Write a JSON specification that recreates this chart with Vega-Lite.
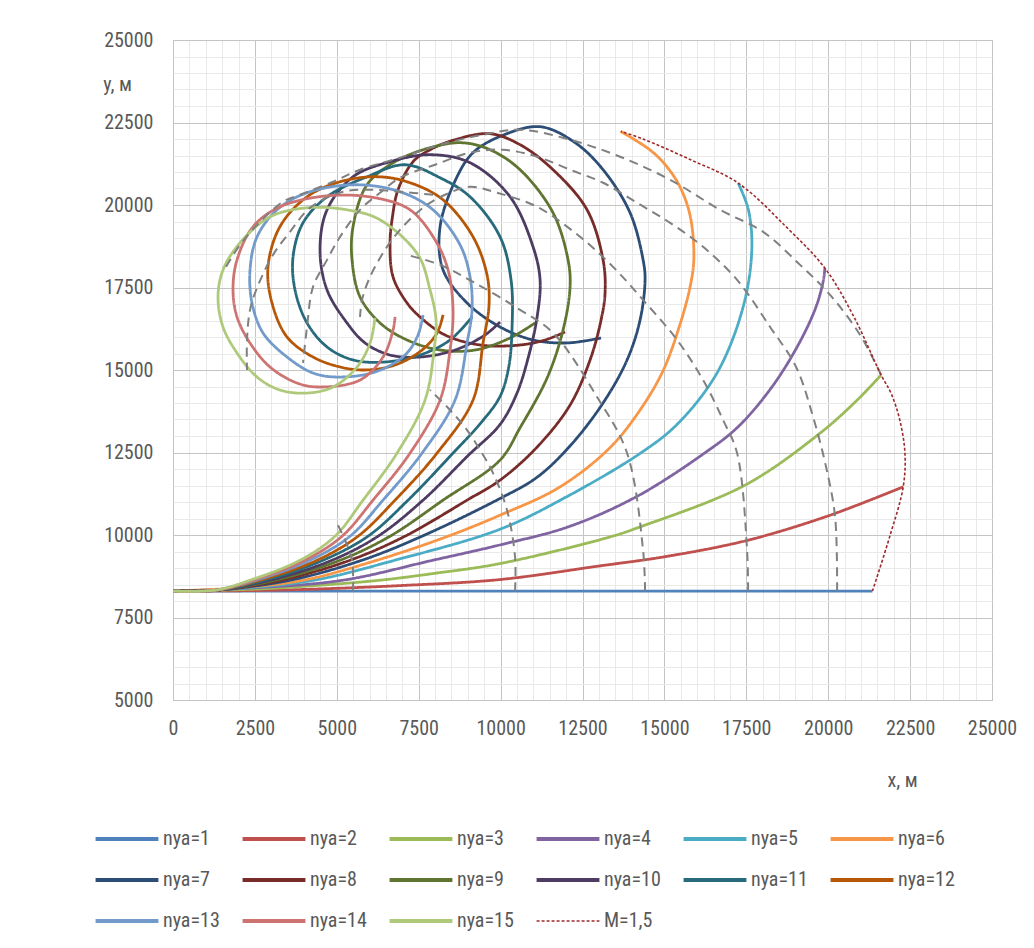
{
"$schema": "https://vega.github.io/schema/vega-lite/v6.json",
"width": 819, "height": 660,
"autosize": {"type": "none"},
"padding": {"left": 173, "top": 40, "right": 42, "bottom": 248},
"background": "white",
"config": {"view": {"stroke": "#c4c4c4", "strokeWidth": 1}, "font": "Liberation Sans Narrow, Arial Narrow, Roboto Condensed, DejaVu Sans Condensed, sans-serif"},
"datasets": {
"traj": [
{"s":"nya=1","i":0,"x":0,"y":8300},{"s":"nya=1","i":1,"x":10000,"y":8300},{"s":"nya=1","i":2,"x":21350,"y":8300},
{"s":"nya=2","i":0,"x":0,"y":8300},{"s":"nya=2","i":1,"x":2000,"y":8310},{"s":"nya=2","i":2,"x":4000,"y":8350},{"s":"nya=2","i":3,"x":7000,"y":8470},{"s":"nya=2","i":4,"x":9983,"y":8650},{"s":"nya=2","i":5,"x":13000,"y":9060},{"s":"nya=2","i":6,"x":15000,"y":9340},{"s":"nya=2","i":7,"x":17500,"y":9830},{"s":"nya=2","i":8,"x":20000,"y":10580},{"s":"nya=2","i":9,"x":22290,"y":11460},
{"s":"nya=3","i":0,"x":0,"y":8300},{"s":"nya=3","i":1,"x":2500,"y":8360},{"s":"nya=3","i":2,"x":4500,"y":8480},{"s":"nya=3","i":3,"x":6320,"y":8630},{"s":"nya=3","i":4,"x":8000,"y":8840},{"s":"nya=3","i":5,"x":9983,"y":9135},{"s":"nya=3","i":6,"x":13342,"y":9943},{"s":"nya=3","i":7,"x":14258,"y":10246},{"s":"nya=3","i":8,"x":17460,"y":11511},{"s":"nya=3","i":9,"x":19743,"y":13079},{"s":"nya=3","i":10,"x":20886,"y":14090},{"s":"nya=3","i":11,"x":21615,"y":14848},
{"s":"nya=4","i":0,"x":0,"y":8300},{"s":"nya=4","i":1,"x":2500,"y":8400},{"s":"nya=4","i":2,"x":5190,"y":8630},{"s":"nya=4","i":3,"x":7938,"y":9236},{"s":"nya=4","i":4,"x":9983,"y":9700},{"s":"nya=4","i":5,"x":12060,"y":10246},{"s":"nya=4","i":6,"x":14136,"y":11156},{"s":"nya=4","i":7,"x":16212,"y":12473},{"s":"nya=4","i":8,"x":17250,"y":13280},{"s":"nya=4","i":9,"x":18288,"y":14494},{"s":"nya=4","i":10,"x":19112,"y":15810},{"s":"nya=4","i":11,"x":19631,"y":16921},{"s":"nya=4","i":12,"x":19849,"y":17700},{"s":"nya=4","i":13,"x":19900,"y":18086},
{"s":"nya=5","i":0,"x":0,"y":8300},{"s":"nya=5","i":1,"x":2000,"y":8380},{"s":"nya=5","i":2,"x":4300,"y":8629},{"s":"nya=5","i":3,"x":6778,"y":9236},{"s":"nya=5","i":4,"x":9983,"y":10176},{"s":"nya=5","i":5,"x":12000,"y":11150},{"s":"nya=5","i":6,"x":14258,"y":12473},{"s":"nya=5","i":7,"x":15384,"y":13350},{"s":"nya=5","i":8,"x":16600,"y":14900},{"s":"nya=5","i":9,"x":17400,"y":16900},{"s":"nya=5","i":10,"x":17668,"y":18641},{"s":"nya=5","i":11,"x":17564,"y":19855},{"s":"nya=5","i":12,"x":17253,"y":20665},
{"s":"nya=6","i":0,"x":0,"y":8300},{"s":"nya=6","i":1,"x":2000,"y":8400},{"s":"nya=6","i":2,"x":3969,"y":8629},{"s":"nya=6","i":3,"x":6228,"y":9236},{"s":"nya=6","i":4,"x":8396,"y":9964},{"s":"nya=6","i":5,"x":9983,"y":10601},{"s":"nya=6","i":6,"x":11800,"y":11450},{"s":"nya=6","i":7,"x":13342,"y":12650},{"s":"nya=6","i":8,"x":14300,"y":13850},{"s":"nya=6","i":9,"x":14969,"y":15000},{"s":"nya=6","i":10,"x":15450,"y":16300},{"s":"nya=6","i":11,"x":15780,"y":17500},{"s":"nya=6","i":12,"x":15900,"y":18400},{"s":"nya=6","i":13,"x":15780,"y":19700},{"s":"nya=6","i":14,"x":15450,"y":20600},{"s":"nya=6","i":15,"x":15000,"y":21250},{"s":"nya=6","i":16,"x":14553,"y":21675},{"s":"nya=6","i":17,"x":13668,"y":22231},
{"s":"nya=7","i":0,"x":0,"y":8300},{"s":"nya=7","i":1,"x":1282,"y":8325},{"s":"nya=7","i":2,"x":3572,"y":8629},{"s":"nya=7","i":3,"x":5770,"y":9236},{"s":"nya=7","i":4,"x":7602,"y":9964},{"s":"nya=7","i":5,"x":9983,"y":11107},{"s":"nya=7","i":6,"x":11113,"y":11750},{"s":"nya=7","i":7,"x":12120,"y":12700},{"s":"nya=7","i":8,"x":13128,"y":14001},{"s":"nya=7","i":9,"x":13861,"y":15306},{"s":"nya=7","i":10,"x":14258,"y":16519},{"s":"nya=7","i":11,"x":14410,"y":17733},{"s":"nya=7","i":12,"x":14349,"y":18340},{"s":"nya=7","i":13,"x":13952,"y":19764},{"s":"nya=7","i":14,"x":13128,"y":21069},{"s":"nya=7","i":15,"x":12273,"y":21890},{"s":"nya=7","i":16,"x":11205,"y":22373},{"s":"nya=7","i":17,"x":9983,"y":22079},{"s":"nya=7","i":18,"x":9159,"y":21585},{"s":"nya=7","i":19,"x":8671,"y":20857},{"s":"nya=7","i":20,"x":8152,"y":19340},{"s":"nya=7","i":21,"x":8243,"y":18036},{"s":"nya=7","i":22,"x":8976,"y":17033},{"s":"nya=7","i":23,"x":9983,"y":16305},{"s":"nya=7","i":24,"x":10991,"y":15911},{"s":"nya=7","i":25,"x":12029,"y":15820},{"s":"nya=7","i":26,"x":13067,"y":15971},
{"s":"nya=8","i":0,"x":0,"y":8300},{"s":"nya=8","i":1,"x":1282,"y":8325},{"s":"nya=8","i":2,"x":3297,"y":8629},{"s":"nya=8","i":3,"x":5404,"y":9236},{"s":"nya=8","i":4,"x":7083,"y":9964},{"s":"nya=8","i":5,"x":8976,"y":11056},{"s":"nya=8","i":6,"x":9983,"y":11663},{"s":"nya=8","i":7,"x":11113,"y":12664},{"s":"nya=8","i":8,"x":12120,"y":13938},{"s":"nya=8","i":9,"x":12731,"y":15304},{"s":"nya=8","i":10,"x":13067,"y":16517},{"s":"nya=8","i":11,"x":13189,"y":17336},{"s":"nya=8","i":12,"x":13128,"y":18337},{"s":"nya=8","i":13,"x":12639,"y":19854},{"s":"nya=8","i":14,"x":11601,"y":21069},{"s":"nya=8","i":15,"x":10594,"y":21827},{"s":"nya=8","i":16,"x":9678,"y":22160},{"s":"nya=8","i":17,"x":8610,"y":21978},{"s":"nya=8","i":18,"x":7846,"y":21675},{"s":"nya=8","i":19,"x":7327,"y":21311},{"s":"nya=8","i":20,"x":6869,"y":20462},{"s":"nya=8","i":21,"x":6700,"y":19650},{"s":"nya=8","i":22,"x":6625,"y":18853},{"s":"nya=8","i":23,"x":6717,"y":17821},{"s":"nya=8","i":24,"x":7144,"y":17033},{"s":"nya=8","i":25,"x":7541,"y":16608},{"s":"nya=8","i":26,"x":8304,"y":16062},{"s":"nya=8","i":27,"x":9373,"y":15758},{"s":"nya=8","i":28,"x":10594,"y":15758},{"s":"nya=8","i":29,"x":11357,"y":15910},{"s":"nya=8","i":30,"x":11968,"y":16153},
{"s":"nya=9","i":0,"x":0,"y":8300},{"s":"nya=9","i":1,"x":1282,"y":8325},{"s":"nya=9","i":2,"x":3114,"y":8629},{"s":"nya=9","i":3,"x":5099,"y":9236},{"s":"nya=9","i":4,"x":6625,"y":9964},{"s":"nya=9","i":5,"x":8243,"y":11056},{"s":"nya=9","i":6,"x":9983,"y":12270},{"s":"nya=9","i":7,"x":10594,"y":13250},{"s":"nya=9","i":8,"x":11418,"y":14757},{"s":"nya=9","i":9,"x":11907,"y":16214},{"s":"nya=9","i":10,"x":12120,"y":17518},{"s":"nya=9","i":11,"x":12059,"y":18337},{"s":"nya=9","i":12,"x":11601,"y":19763},{"s":"nya=9","i":13,"x":10594,"y":21069},{"s":"nya=9","i":14,"x":9678,"y":21675},{"s":"nya=9","i":15,"x":8823,"y":21887},{"s":"nya=9","i":16,"x":7846,"y":21736},{"s":"nya=9","i":17,"x":6778,"y":21311},{"s":"nya=9","i":18,"x":5923,"y":20614},{"s":"nya=9","i":19,"x":5495,"y":19339},{"s":"nya=9","i":20,"x":5465,"y":18337},{"s":"nya=9","i":21,"x":5709,"y":17215},{"s":"nya=9","i":22,"x":6320,"y":16426},{"s":"nya=9","i":23,"x":7144,"y":15910},{"s":"nya=9","i":24,"x":8152,"y":15606},{"s":"nya=9","i":25,"x":9220,"y":15606},{"s":"nya=9","i":26,"x":10289,"y":15971},{"s":"nya=9","i":27,"x":11052,"y":16426},
{"s":"nya=10","i":0,"x":0,"y":8300},{"s":"nya=10","i":1,"x":1282,"y":8325},{"s":"nya=10","i":2,"x":2961,"y":8629},{"s":"nya=10","i":3,"x":4854,"y":9236},{"s":"nya=10","i":4,"x":6259,"y":9964},{"s":"nya=10","i":5,"x":7633,"y":11056},{"s":"nya=10","i":6,"x":9000,"y":12400},{"s":"nya=10","i":7,"x":9983,"y":13350},{"s":"nya=10","i":8,"x":10500,"y":14300},{"s":"nya=10","i":9,"x":10850,"y":15400},{"s":"nya=10","i":10,"x":11113,"y":16600},{"s":"nya=10","i":11,"x":11205,"y":17730},{"s":"nya=10","i":12,"x":10991,"y":18732},{"s":"nya=10","i":13,"x":10289,"y":20249},{"s":"nya=10","i":14,"x":9067,"y":21281},{"s":"nya=10","i":15,"x":7846,"y":21524},{"s":"nya=10","i":16,"x":6625,"y":21311},{"s":"nya=10","i":17,"x":5495,"y":20856},{"s":"nya=10","i":18,"x":4702,"y":19854},{"s":"nya=10","i":19,"x":4488,"y":18641},{"s":"nya=10","i":20,"x":4702,"y":17427},{"s":"nya=10","i":21,"x":5312,"y":16426},{"s":"nya=10","i":22,"x":5862,"y":15819},{"s":"nya=10","i":23,"x":6625,"y":15455},{"s":"nya=10","i":24,"x":7541,"y":15394},{"s":"nya=10","i":25,"x":8610,"y":15606},{"s":"nya=10","i":26,"x":9525,"y":16062},{"s":"nya=10","i":27,"x":9983,"y":16457},
{"s":"nya=11","i":0,"x":0,"y":8300},{"s":"nya=11","i":1,"x":1282,"y":8325},{"s":"nya=11","i":2,"x":2809,"y":8629},{"s":"nya=11","i":3,"x":4580,"y":9236},{"s":"nya=11","i":4,"x":5953,"y":9964},{"s":"nya=11","i":5,"x":7175,"y":11056},{"s":"nya=11","i":6,"x":8548,"y":12482},{"s":"nya=11","i":7,"x":9400,"y":13400},{"s":"nya=11","i":8,"x":9983,"y":14200},{"s":"nya=11","i":9,"x":10250,"y":15100},{"s":"nya=11","i":10,"x":10350,"y":16300},{"s":"nya=11","i":11,"x":10319,"y":17730},{"s":"nya=11","i":12,"x":9983,"y":19035},{"s":"nya=11","i":13,"x":9067,"y":20249},{"s":"nya=11","i":14,"x":8152,"y":20825},{"s":"nya=11","i":15,"x":7083,"y":21220},{"s":"nya=11","i":16,"x":5923,"y":20856},{"s":"nya=11","i":17,"x":4702,"y":20249},{"s":"nya=11","i":18,"x":3969,"y":19460},{"s":"nya=11","i":19,"x":3664,"y":18428},{"s":"nya=11","i":20,"x":3725,"y":17427},{"s":"nya=11","i":21,"x":4091,"y":16426},{"s":"nya=11","i":22,"x":4702,"y":15698},{"s":"nya=11","i":23,"x":5495,"y":15304},{"s":"nya=11","i":24,"x":6472,"y":15243},{"s":"nya=11","i":25,"x":7541,"y":15455},{"s":"nya=11","i":26,"x":8457,"y":15910},{"s":"nya=11","i":27,"x":9128,"y":16608},
{"s":"nya=12","i":0,"x":0,"y":8300},{"s":"nya=12","i":1,"x":1282,"y":8325},{"s":"nya=12","i":2,"x":2656,"y":8629},{"s":"nya=12","i":3,"x":4396,"y":9236},{"s":"nya=12","i":4,"x":5648,"y":9964},{"s":"nya=12","i":5,"x":6778,"y":11056},{"s":"nya=12","i":6,"x":8060,"y":12482},{"s":"nya=12","i":7,"x":9159,"y":14093},{"s":"nya=12","i":8,"x":9464,"y":15819},{"s":"nya=12","i":9,"x":9647,"y":16972},{"s":"nya=12","i":10,"x":9586,"y":17882},{"s":"nya=12","i":11,"x":9159,"y":19035},{"s":"nya=12","i":12,"x":8243,"y":20158},{"s":"nya=12","i":13,"x":7236,"y":20674},{"s":"nya=12","i":14,"x":6259,"y":20856},{"s":"nya=12","i":15,"x":5099,"y":20704},{"s":"nya=12","i":16,"x":4091,"y":20249},{"s":"nya=12","i":17,"x":3267,"y":19348},{"s":"nya=12","i":18,"x":2900,"y":18125},{"s":"nya=12","i":19,"x":3022,"y":17033},{"s":"nya=12","i":20,"x":3480,"y":16001},{"s":"nya=12","i":21,"x":4274,"y":15394},{"s":"nya=12","i":22,"x":5099,"y":15091},{"s":"nya=12","i":23,"x":5862,"y":15000},{"s":"nya=12","i":24,"x":6778,"y":15152},{"s":"nya=12","i":25,"x":7602,"y":15606},{"s":"nya=12","i":26,"x":8060,"y":16123},{"s":"nya=12","i":27,"x":8243,"y":16669},
{"s":"nya=13","i":0,"x":0,"y":8300},{"s":"nya=13","i":1,"x":1282,"y":8325},{"s":"nya=13","i":2,"x":2534,"y":8629},{"s":"nya=13","i":3,"x":4183,"y":9236},{"s":"nya=13","i":4,"x":5404,"y":9964},{"s":"nya=13","i":5,"x":6411,"y":11056},{"s":"nya=13","i":6,"x":7602,"y":12482},{"s":"nya=13","i":7,"x":8610,"y":14093},{"s":"nya=13","i":8,"x":8976,"y":15819},{"s":"nya=13","i":9,"x":9128,"y":16820},{"s":"nya=13","i":10,"x":9067,"y":17821},{"s":"nya=13","i":11,"x":8762,"y":18793},{"s":"nya=13","i":12,"x":7938,"y":19854},{"s":"nya=13","i":13,"x":6930,"y":20401},{"s":"nya=13","i":14,"x":5557,"y":20614},{"s":"nya=13","i":15,"x":4091,"y":20371},{"s":"nya=13","i":16,"x":3175,"y":19854},{"s":"nya=13","i":17,"x":2565,"y":19035},{"s":"nya=13","i":18,"x":2351,"y":18033},{"s":"nya=13","i":19,"x":2412,"y":17033},{"s":"nya=13","i":20,"x":2748,"y":16123},{"s":"nya=13","i":21,"x":3480,"y":15394},{"s":"nya=13","i":22,"x":4274,"y":14909},{"s":"nya=13","i":23,"x":5007,"y":14787},{"s":"nya=13","i":24,"x":6167,"y":14939},{"s":"nya=13","i":25,"x":7083,"y":15455},{"s":"nya=13","i":26,"x":7480,"y":16062},{"s":"nya=13","i":27,"x":7633,"y":16669},
{"s":"nya=14","i":0,"x":0,"y":8300},{"s":"nya=14","i":1,"x":1282,"y":8325},{"s":"nya=14","i":2,"x":2442,"y":8629},{"s":"nya=14","i":3,"x":4030,"y":9236},{"s":"nya=14","i":4,"x":5160,"y":9964},{"s":"nya=14","i":5,"x":6106,"y":11056},{"s":"nya=14","i":6,"x":7236,"y":12482},{"s":"nya=14","i":7,"x":8152,"y":14093},{"s":"nya=14","i":8,"x":8457,"y":15606},{"s":"nya=14","i":9,"x":8548,"y":16820},{"s":"nya=14","i":10,"x":8396,"y":18033},{"s":"nya=14","i":11,"x":7999,"y":18944},{"s":"nya=14","i":12,"x":7236,"y":19854},{"s":"nya=14","i":13,"x":6167,"y":20219},{"s":"nya=14","i":14,"x":4732,"y":20280},{"s":"nya=14","i":15,"x":3267,"y":19946},{"s":"nya=14","i":16,"x":2442,"y":19339},{"s":"nya=14","i":17,"x":1954,"y":18337},{"s":"nya=14","i":18,"x":1832,"y":17427},{"s":"nya=14","i":19,"x":1954,"y":16608},{"s":"nya=14","i":20,"x":2351,"y":15819},{"s":"nya=14","i":21,"x":2961,"y":15091},{"s":"nya=14","i":22,"x":3786,"y":14605},{"s":"nya=14","i":23,"x":4488,"y":14484},{"s":"nya=14","i":24,"x":5709,"y":14696},{"s":"nya=14","i":25,"x":6411,"y":15394},{"s":"nya=14","i":26,"x":6717,"y":16214},{"s":"nya=14","i":27,"x":6778,"y":16608},
{"s":"nya=15","i":0,"x":0,"y":8300},{"s":"nya=15","i":1,"x":1282,"y":8330},{"s":"nya=15","i":2,"x":2351,"y":8629},{"s":"nya=15","i":3,"x":3877,"y":9236},{"s":"nya=15","i":4,"x":4946,"y":9964},{"s":"nya=15","i":5,"x":5801,"y":11056},{"s":"nya=15","i":6,"x":6839,"y":12482},{"s":"nya=15","i":7,"x":7694,"y":14093},{"s":"nya=15","i":8,"x":7968,"y":15606},{"s":"nya=15","i":9,"x":8029,"y":16517},{"s":"nya=15","i":10,"x":7846,"y":17427},{"s":"nya=15","i":11,"x":7480,"y":18489},{"s":"nya=15","i":12,"x":6320,"y":19551},{"s":"nya=15","i":13,"x":5312,"y":19854},{"s":"nya=15","i":14,"x":4091,"y":19915},{"s":"nya=15","i":15,"x":2961,"y":19642},{"s":"nya=15","i":16,"x":2046,"y":18853},{"s":"nya=15","i":17,"x":1527,"y":18033},{"s":"nya=15","i":18,"x":1374,"y":17215},{"s":"nya=15","i":19,"x":1527,"y":16305},{"s":"nya=15","i":20,"x":1954,"y":15516},{"s":"nya=15","i":21,"x":2565,"y":14787},{"s":"nya=15","i":22,"x":3267,"y":14393},{"s":"nya=15","i":23,"x":4091,"y":14302},{"s":"nya=15","i":24,"x":4885,"y":14484},{"s":"nya=15","i":25,"x":5618,"y":15091},{"s":"nya=15","i":26,"x":6014,"y":15819},{"s":"nya=15","i":27,"x":6167,"y":16578}
],
"mline": [
{"s":"M=1,5","i":0,"x":21350,"y":8300},{"s":"M=1,5","i":1,"x":21875,"y":9943},{"s":"M=1,5","i":2,"x":22290,"y":11460},{"s":"M=1,5","i":3,"x":22343,"y":12473},{"s":"M=1,5","i":4,"x":22186,"y":13483},{"s":"M=1,5","i":5,"x":21920,"y":14293},{"s":"M=1,5","i":6,"x":21615,"y":14848},{"s":"M=1,5","i":7,"x":20782,"y":16617},{"s":"M=1,5","i":8,"x":19900,"y":18086},{"s":"M=1,5","i":9,"x":18706,"y":19348},{"s":"M=1,5","i":10,"x":17253,"y":20665},{"s":"M=1,5","i":11,"x":15799,"y":21372},{"s":"M=1,5","i":12,"x":14346,"y":22000},{"s":"M=1,5","i":13,"x":13668,"y":22231}
],
"iso": [
{"g":1,"i":0,"x":5495,"y":8300},{"g":1,"i":1,"x":5465,"y":9236},{"g":1,"i":2,"x":5251,"y":9842},{"g":1,"i":3,"x":5037,"y":10297},
{"g":2,"i":0,"x":10441,"y":8300},{"g":2,"i":1,"x":10441,"y":9333},{"g":2,"i":2,"x":10197,"y":10752},{"g":2,"i":3,"x":9770,"y":11875},{"g":2,"i":4,"x":9373,"y":12573},{"g":2,"i":5,"x":8976,"y":13180},{"g":2,"i":6,"x":8457,"y":13787},{"g":2,"i":7,"x":7846,"y":14393},
{"g":3,"i":0,"x":14410,"y":8300},{"g":3,"i":1,"x":14349,"y":9539},{"g":3,"i":2,"x":13861,"y":12482},{"g":3,"i":3,"x":12945,"y":14184},{"g":3,"i":4,"x":11601,"y":16123},{"g":3,"i":5,"x":10502,"y":16881},{"g":3,"i":6,"x":9159,"y":17670},{"g":3,"i":7,"x":8152,"y":18186},{"g":3,"i":8,"x":7144,"y":18489},
{"g":4,"i":0,"x":17555,"y":8300},{"g":4,"i":1,"x":17524,"y":9539},{"g":4,"i":2,"x":17219,"y":12482},{"g":4,"i":3,"x":16792,"y":13483},{"g":4,"i":4,"x":16181,"y":14696},{"g":4,"i":5,"x":15387,"y":15910},{"g":4,"i":6,"x":14349,"y":17124},{"g":4,"i":7,"x":13433,"y":18125},{"g":4,"i":8,"x":12426,"y":19035},{"g":4,"i":9,"x":11113,"y":19945},{"g":4,"i":10,"x":9892,"y":20371},{"g":4,"i":11,"x":9067,"y":20553},{"g":4,"i":12,"x":8304,"y":20310},{"g":4,"i":13,"x":7633,"y":19915},{"g":4,"i":14,"x":6930,"y":19248},{"g":4,"i":15,"x":6472,"y":18641},{"g":4,"i":16,"x":6014,"y":17821},{"g":4,"i":17,"x":5770,"y":17124},{"g":4,"i":18,"x":5709,"y":16608},
{"g":5,"i":0,"x":20272,"y":8300},{"g":5,"i":1,"x":20211,"y":10545},{"g":5,"i":2,"x":19936,"y":12058},{"g":5,"i":3,"x":19539,"y":13577},{"g":5,"i":4,"x":19020,"y":15091},{"g":5,"i":5,"x":18226,"y":16305},{"g":5,"i":6,"x":17219,"y":17730},{"g":5,"i":7,"x":16181,"y":18732},{"g":5,"i":8,"x":15173,"y":19460},{"g":5,"i":9,"x":14166,"y":20067},{"g":5,"i":10,"x":13128,"y":20674},{"g":5,"i":11,"x":12120,"y":21069},{"g":5,"i":12,"x":11113,"y":21463},{"g":5,"i":13,"x":10075,"y":21675},{"g":5,"i":14,"x":9067,"y":21585},{"g":5,"i":15,"x":7999,"y":21220},{"g":5,"i":16,"x":6930,"y":20826},{"g":5,"i":17,"x":6320,"y":20371},{"g":5,"i":18,"x":5709,"y":19854},{"g":5,"i":19,"x":5099,"y":19035},{"g":5,"i":20,"x":4702,"y":18337},{"g":5,"i":21,"x":4274,"y":17518},{"g":5,"i":22,"x":4091,"y":16305},{"g":5,"i":23,"x":3969,"y":15213},
{"g":6,"i":0,"x":21615,"y":14848},{"g":6,"i":1,"x":20974,"y":16062},{"g":6,"i":2,"x":20058,"y":17276},{"g":6,"i":3,"x":19142,"y":18186},{"g":6,"i":4,"x":18013,"y":19187},{"g":6,"i":5,"x":16700,"y":19854},{"g":6,"i":6,"x":15173,"y":20765},{"g":6,"i":7,"x":13647,"y":21463},{"g":6,"i":8,"x":12120,"y":21979},{"g":6,"i":9,"x":10594,"y":22282},{"g":6,"i":10,"x":9464,"y":22130},{"g":6,"i":11,"x":8152,"y":21827},{"g":6,"i":12,"x":6930,"y":21433},{"g":6,"i":13,"x":5709,"y":21069},{"g":6,"i":14,"x":4885,"y":20704},{"g":6,"i":15,"x":3877,"y":20310},{"g":6,"i":16,"x":3358,"y":20098},{"g":6,"i":17,"x":2656,"y":19491},{"g":6,"i":18,"x":2046,"y":18793},{"g":6,"i":19,"x":1527,"y":17974},
{"g":7,"i":0,"x":7938,"y":20310},{"g":7,"i":1,"x":6930,"y":20401},{"g":7,"i":2,"x":6014,"y":20462},{"g":7,"i":3,"x":5190,"y":20401},{"g":7,"i":4,"x":4183,"y":19915},{"g":7,"i":5,"x":3572,"y":19187},{"g":7,"i":6,"x":3053,"y":18489},{"g":7,"i":7,"x":2565,"y":17488},{"g":7,"i":8,"x":2351,"y":16820},{"g":7,"i":9,"x":2259,"y":15910},{"g":7,"i":10,"x":2259,"y":15000}
]
},
"encoding": {
"x": {"field": "x", "type": "quantitative", "scale": {"domain": [0, 25000], "nice": false, "zero": false},
 "axis": {"values": [0,500,1000,1500,2000,2500,3000,3500,4000,4500,5000,5500,6000,6500,7000,7500,8000,8500,9000,9500,10000,10500,11000,11500,12000,12500,13000,13500,14000,14500,15000,15500,16000,16500,17000,17500,18000,18500,19000,19500,20000,20500,21000,21500,22000,22500,23000,23500,24000,24500,25000],
  "format": "d", "labelExpr": "datum.value % 2500 === 0 ? datum.label : ''",
  "grid": true, "gridColor": {"condition": {"test": "datum.value % 2500 === 0", "value": "#c4c4c4"}, "value": "#e9e9e9"}, "gridWidth": 1,
  "ticks": false, "domain": false, "labelFontSize": 20, "labelColor": "#595959", "labelPadding": 18, "labelFlush": false, "labelOverlap": false,
  "title": "x, м", "titleX": 729, "titleY": 80, "titleAngle": 0, "titleAlign": "center", "titleBaseline": "middle", "titleFontWeight": "normal", "titleFontSize": 20, "titleColor": "#595959"}},
"y": {"field": "y", "type": "quantitative", "scale": {"domain": [5000, 25000], "nice": false, "zero": false},
 "axis": {"values": [5000,5500,6000,6500,7000,7500,8000,8500,9000,9500,10000,10500,11000,11500,12000,12500,13000,13500,14000,14500,15000,15500,16000,16500,17000,17500,18000,18500,19000,19500,20000,20500,21000,21500,22000,22500,23000,23500,24000,24500,25000],
  "format": "d", "labelExpr": "datum.value % 2500 === 0 ? datum.label : ''",
  "grid": true, "gridColor": {"condition": {"test": "datum.value % 2500 === 0", "value": "#c4c4c4"}, "value": "#e9e9e9"}, "gridWidth": 1,
  "ticks": false, "domain": false, "labelFontSize": 20, "labelColor": "#595959", "labelPadding": 20, "labelFlush": false, "labelOverlap": false,
  "title": "y, м", "titleX": -56, "titleY": 44, "titleAngle": 0, "titleAlign": "center", "titleBaseline": "middle", "titleFontWeight": "normal", "titleFontSize": 20, "titleColor": "#595959"}},
"order": {"field": "i", "type": "quantitative"}
},
"layer": [
{
"data": {"name": "traj"},
"mark": {"type": "line", "interpolate": "catmull-rom", "strokeWidth": 2.8},
"encoding": {
"color": {"field": "s", "type": "nominal",
 "scale": {"domain": ["nya=1","nya=2","nya=3","nya=4","nya=5","nya=6","nya=7","nya=8","nya=9","nya=10","nya=11","nya=12","nya=13","nya=14","nya=15","M=1,5"],
  "range": ["#4F81BD","#C0504D","#9BBB59","#8064A2","#4BACC6","#F79646","#2C4D75","#772C2A","#5F7530","#4D3B62","#276A7C","#B65708","#729ACA","#CD7371","#AFC97A","#9E2A2B"]},
 "legend": {"title": null, "orient": "none", "legendX": -56, "legendY": 789, "direction": "horizontal", "columns": 6, "gridAlign": "all",
  "symbolType": "stroke", "symbolSize": 3950, "symbolStrokeWidth": 4, "labelFontSize": 20, "labelColor": "#595959", "labelOffset": 26,
  "columnPadding": 14, "rowPadding": 21,
  "encode": {"symbols": {"update": {"strokeWidth": {"signal": "datum.value === 'M=1,5' ? 1.6 : 4"}}}}}},
"strokeDash": {"field": "s", "type": "nominal",
 "scale": {"domain": ["nya=1","nya=2","nya=3","nya=4","nya=5","nya=6","nya=7","nya=8","nya=9","nya=10","nya=11","nya=12","nya=13","nya=14","nya=15","M=1,5"],
  "range": [[1,0],[1,0],[1,0],[1,0],[1,0],[1,0],[1,0],[1,0],[1,0],[1,0],[1,0],[1,0],[1,0],[1,0],[1,0],[3,2]]},
 "legend": {"title": null, "orient": "none", "legendX": -56, "legendY": 789, "direction": "horizontal", "columns": 6, "gridAlign": "all",
  "symbolType": "stroke", "symbolSize": 3950, "symbolStrokeWidth": 4, "labelFontSize": 20, "labelColor": "#595959", "labelOffset": 26,
  "columnPadding": 14, "rowPadding": 21,
  "encode": {"symbols": {"update": {"strokeWidth": {"signal": "datum.value === 'M=1,5' ? 1.6 : 4"}}}}}}
}
},
{
"data": {"name": "iso"},
"mark": {"type": "line", "interpolate": "catmull-rom", "color": "#808080", "strokeWidth": 2, "strokeDash": [9, 6]},
"encoding": {
"detail": {"field": "g", "type": "nominal"}
}
},
{
"data": {"name": "mline"},
"mark": {"type": "line", "interpolate": "catmull-rom", "strokeWidth": 1.6},
"encoding": {
"color": {"field": "s", "type": "nominal"},
"strokeDash": {"field": "s", "type": "nominal"}
}
}
]
}
